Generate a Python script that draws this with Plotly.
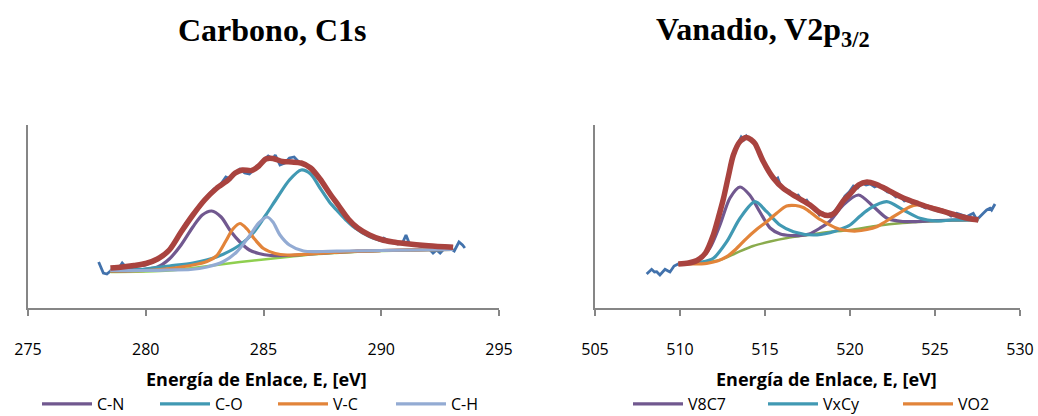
import plotly.graph_objects as go

# ---------------- Carbono, C1s ----------------
c_exp_E = [278.0, 278.1, 278.2, 278.35, 278.5, 278.65, 278.8, 279.0, 279.15, 279.3, 279.5, 279.7,
           280.0, 280.3, 280.5, 280.7, 280.9, 281.1, 281.3, 281.5, 281.7, 281.9, 282.1, 282.3,
           282.5, 282.7, 282.9, 283.1, 283.3, 283.4, 283.6, 283.8, 284.0, 284.2, 284.4, 284.6,
           284.8, 285.0, 285.2, 285.4, 285.5, 285.7, 285.9, 286.1, 286.3, 286.5, 286.7, 286.9,
           287.1, 287.3, 287.5, 287.7, 287.9, 288.1, 288.3, 288.5, 288.7, 288.9, 289.1, 289.3,
           289.5, 289.7, 289.9, 290.1, 290.3, 290.5, 290.7, 290.9, 291.05, 291.2, 291.4, 291.6,
           291.8, 292.0, 292.2, 292.35, 292.5, 292.7, 292.9, 293.1, 293.3, 293.45, 293.55]
c_exp_I = [46, 40, 35, 34, 37, 41, 38, 45, 41, 39.5, 41, 42,
           43, 46, 50, 52, 56, 62, 69, 76, 85, 90, 96, 101,
           109, 114, 119, 121, 127, 131, 129, 135, 139, 135, 134, 139,
           143, 148, 152, 149, 153, 143, 145, 150, 151, 146, 144, 142,
           136, 131, 125, 118, 112, 106, 96, 92, 87, 80, 78, 75,
           73, 71, 68, 70, 67, 66, 64, 65, 73, 64, 63, 62,
           61, 60, 55, 58, 55, 60, 60, 57, 66, 63, 60]

c_fit_E = [278.5, 279.0, 279.5, 280.0, 280.5, 281.0, 281.5, 282.0, 282.5, 283.0, 283.5, 283.8,
           284.1, 284.5, 284.8, 285.1, 285.4, 285.8, 286.2, 286.6, 287.0, 287.4, 287.8, 288.2,
           288.6, 289.0, 289.5, 290.0, 290.5, 291.0, 292.0, 293.05]
c_fit_I = [40, 41, 42.5, 44.5, 49, 58, 76, 93, 108, 119.5, 128, 135,
           138, 137.5, 142, 149, 149.5, 146.5, 146, 145, 140, 129, 115, 102,
           89, 80, 73, 68.5, 66, 64.5, 62.3, 60.7]

c_bg_E = [278.5, 280.0, 281.0, 282.0, 283.0, 284.0, 285.0, 286.0, 287.0, 288.0, 289.0, 290.0,
          291.0, 292.0, 293.05]
c_bg_I = [36, 36.5, 37.5, 40, 43, 46, 48.5, 51, 53.5, 55, 56.3, 57, 57.5, 58, 58.3]

c_cn_E = [278.5, 279.5, 280.5, 281.0, 281.5, 282.0, 282.4, 282.8, 283.2, 283.6, 284.0, 284.4,
          284.8, 285.3, 286.0, 287.0, 288.0, 289.0, 290.0, 291.0, 292.0, 293.05]
c_cn_I = [37, 37.5, 41, 49, 63, 81, 93, 97, 91, 77, 66, 58,
          54.5, 52.5, 52.5, 54, 55.5, 56.8, 57.5, 58, 58.4, 58.7]

c_co_E = [278.5, 280.0, 281.0, 282.0, 283.0, 284.0, 284.6, 285.1, 285.6, 286.1, 286.6, 287.0,
          287.4, 287.8, 288.1, 288.5, 288.8, 289.5, 290.2, 291.0, 291.7, 293.05]
c_co_I = [37.5, 39, 42, 45, 51, 63, 76, 93, 111, 128, 138, 134,
          120, 106, 98, 88, 81.5, 71.5, 66.5, 64, 63, 61.3]

c_vc_E = [278.5, 280.0, 281.0, 282.0, 282.6, 283.0, 283.4, 283.7, 284.0, 284.3, 284.6, 285.0,
          285.5, 286.0, 287.0, 288.0, 289.0, 290.0, 291.0, 292.0, 293.05]
c_vc_I = [37, 37.5, 39.5, 43, 46.5, 52, 67, 79, 84.5, 79, 69.5, 59.5,
          54.5, 53, 54, 55.5, 56.8, 57.5, 58, 58.4, 58.7]

c_ch_E = [278.5, 280.0, 281.0, 281.9, 282.6, 283.3, 283.86, 284.4, 284.8, 285.15, 285.4, 285.7,
          286.1, 286.7, 287.5, 288.5, 290.0, 291.5, 293.05]
c_ch_I = [37.5, 37.5, 38, 38.5, 41, 46.5, 56, 72, 85, 91, 86, 73,
          63, 57, 56.5, 57, 57.5, 58, 58.7]

# ---------------- Vanadio, V2p3/2 ----------------
v_exp_E = [508.04, 508.2, 508.33, 508.5, 508.63, 508.82, 509.0, 509.12, 509.3, 509.41, 509.65, 509.9,
           510.2, 510.5, 510.8, 511.1, 511.4, 511.7, 512.0, 512.3, 512.6, 512.9, 513.2, 513.45,
           513.6, 513.75, 513.9, 514.05, 514.25, 514.45, 514.7, 514.95, 515.2, 515.4, 515.6, 515.75,
           515.95, 516.2, 516.45, 516.7, 516.95, 517.2, 517.45, 517.7, 517.95, 518.2, 518.4, 518.6,
           518.8, 519.0, 519.2, 519.45, 519.7, 519.95, 520.2, 520.45, 520.7, 520.95, 521.2, 521.45,
           521.7, 521.95, 522.2, 522.45, 522.7, 522.95, 523.2, 523.45, 523.7, 523.95, 524.2, 524.45,
           524.7, 524.95, 525.2, 525.45, 525.7, 525.95, 526.27, 526.55, 526.86, 527.05, 527.25, 527.4,
           527.55, 527.84, 528.04, 528.24, 528.33, 528.53]
v_exp_I = [34, 37, 38.7, 36, 36.3, 33, 36, 38.7, 37, 36, 42, 44,
           44, 45.5, 46, 49, 53, 62, 75, 93, 113, 136, 155, 166,
           171, 168, 172, 169, 167, 163, 153, 144, 136, 133, 128, 130,
           121, 118, 117, 112, 113, 107, 108, 101, 100, 93, 95, 92,
           94, 95, 99, 104, 112, 116, 122, 120, 125, 123, 124, 121,
           123, 119, 116, 115, 111, 112, 107, 108, 104, 105, 102, 100,
           101, 98, 97, 98, 95, 92, 94.7, 93, 91.3, 93, 94.7, 90,
           89.7, 94.7, 98, 99.7, 98, 104]

v_fit_E = [509.9, 510.5, 511.0, 511.5, 511.96, 512.25, 512.55, 512.85, 513.14, 513.53, 513.92, 514.2,
           514.41, 514.9, 515.49, 516.08, 516.86, 517.65, 518.24, 518.7, 519.1, 519.6, 520.0, 520.5,
           521.0, 521.5, 522.0, 522.6, 523.14, 524.0, 524.5, 525.1, 526.0, 526.5, 527.0, 527.55]
v_fit_I = [44, 45, 47.5, 55, 73, 90, 109, 132, 153, 166.5, 170.5, 168,
           164.5, 146.5, 130, 119.5, 111, 103, 95, 92.5, 95, 107, 114, 123,
           126, 124, 120, 114.5, 110, 104.5, 101.5, 98.5, 94, 91.5, 89.5, 88]

v_bg_E = [509.9, 511.0, 512.35, 513.3, 514.3, 515.3, 516.3, 517.5, 518.5, 520.0, 521.5, 523.1,
          524.5, 526.0, 527.55]
v_bg_I = [44, 45, 48, 55, 62, 66.5, 70, 73, 75.5, 78, 82, 85, 86.5, 87.5, 88]

v_v8c7_E = [509.9, 510.6, 511.2, 511.76, 512.35, 512.94, 513.53, 514.1, 514.7, 515.3, 515.9, 516.5,
            517.1, 517.6, 518.2, 518.8, 519.6, 520.5, 521.4, 522.2, 523.1, 524.0, 525.0, 526.0,
            527.55]
v_v8c7_I = [44, 45, 49.5, 60, 83, 110, 121, 113, 96, 80, 74, 72.5,
            72.5, 74, 79.5, 86.5, 103, 113, 101, 89.5, 86.5, 86.5, 87.3, 88, 88.3]

v_vxcy_E = [509.9, 510.6, 511.2, 511.96, 512.75, 513.53, 514.41, 515.1, 515.88, 516.67, 517.84, 518.82,
            519.4, 520.0, 520.6, 521.18, 522.16, 523.14, 524.12, 525.1, 526.0, 527.55]
v_vxcy_I = [44, 44.5, 45.7, 49.7, 66.3, 89.7, 106.3, 96.3, 83, 76.3, 73, 75.3,
            78.5, 83, 92, 99.7, 106.3, 98, 89.7, 87, 88, 88.3]

v_vo2_E = [509.9, 510.7, 511.57, 512.2, 512.75, 513.3, 513.92, 514.5, 515.1, 515.7, 516.27, 516.8,
           517.25, 517.65, 518.1, 518.63, 519.1, 519.6, 520.39, 521.0, 521.57, 522.05, 522.55, 523.05,
           523.53, 523.95, 524.4, 525.0, 525.6, 526.1, 526.8, 527.55]
v_vo2_I = [44, 44, 44.7, 47, 51.3, 59, 69.7, 78.5, 86.3, 95, 102, 102.5,
           100.5, 96, 90, 84.7, 80.5, 78, 77, 78.5, 81.3, 86, 91.3, 96.5,
           101.3, 103, 102.5, 100, 97, 93.5, 90.5, 88.5]

c_ticks = [275, 280, 285, 290, 295]
v_ticks = [505, 510, 515, 520, 525, 530]

# ---------------- styling ----------------
W, H = 1038, 416
BLUE = "#4272ac"
RED = "#a9433f"
PURPLE = "#71588f"
TEAL = "#4199b3"
ORANGE = "#e2843a"
LIGHTBLUE = "#93abd3"
AXIS = "#868686"
FONT = "Open Sans"


def px_x(p):
    return p / W


def px_y(p):
    return 1 - p / H


fig = go.Figure()


def add(x, y, color, width, name=None, xa="x", ya="y", legend="legend", smooth=True):
    fig.add_trace(go.Scatter(
        x=x, y=y, mode="lines", name=name or "",
        line=dict(color=color, width=width, shape="spline" if smooth else "linear", smoothing=0.8),
        showlegend=name is not None, legend=legend, xaxis=xa, yaxis=ya, hoverinfo="skip"))


# Carbono panel
add(c_exp_E, c_exp_I, BLUE, 2.8, smooth=False)
add(c_bg_E, c_bg_I, "#8fcf4f", 2.5)
add(c_cn_E, c_cn_I, PURPLE, 3.2, "C-N")
add(c_co_E, c_co_I, TEAL, 3.2, "C-O")
add(c_vc_E, c_vc_I, ORANGE, 3.2, "V-C")
add(c_ch_E, c_ch_I, LIGHTBLUE, 3.2, "C-H")
add(c_fit_E, c_fit_I, RED, 5.5)

# Vanadio panel
add(v_exp_E, v_exp_I, BLUE, 2.8, xa="x2", ya="y2", smooth=False)
add(v_bg_E, v_bg_I, "#8aab4d", 2.5, xa="x2", ya="y2")
add(v_v8c7_E, v_v8c7_I, PURPLE, 3.2, "V8C7", "x2", "y2", "legend2")
add(v_vxcy_E, v_vxcy_I, TEAL, 3.2, "VxCy", "x2", "y2", "legend2")
add(v_vo2_E, v_vo2_I, ORANGE, 3.2, "VO2", "x2", "y2", "legend2")
add(v_fit_E, v_fit_I, RED, 5.5, xa="x2", ya="y2")

xcommon = dict(showline=True, linecolor=AXIS, linewidth=1.5, ticks="outside", ticklen=6,
               tickcolor=AXIS, tickwidth=1.5, showgrid=False, zeroline=False, automargin=False,
               tickfont=dict(family=FONT, size=16, color="#000000"), ticklabelstandoff=20)
ycommon = dict(showline=True, linecolor=AXIS, linewidth=1.5, ticks="", showticklabels=False,
               showgrid=False, zeroline=False, automargin=False, range=[0, 183])
ydom = [px_y(308), px_y(125)]

legend_common = dict(orientation="h", yanchor="middle", xanchor="left", itemwidth=50,
                     entrywidthmode="pixels", font=dict(family=FONT, size=16, color="#000000"),
                     bgcolor="rgba(0,0,0,0)", borderwidth=0, tracegroupgap=0)

fig.update_layout(
    width=W, height=H, margin=dict(l=0, r=0, t=0, b=0, autoexpand=False),
    paper_bgcolor="white", plot_bgcolor="white",
    xaxis=dict(domain=[px_x(28), px_x(499)], range=[275, 295], tickvals=c_ticks, anchor="y", **xcommon),
    yaxis=dict(domain=ydom, anchor="x", **ycommon),
    xaxis2=dict(domain=[px_x(595), px_x(1020)], range=[505, 530], tickvals=v_ticks, anchor="y2", **xcommon),
    yaxis2=dict(domain=ydom, anchor="x2", **ycommon),
    legend=dict(x=px_x(37), y=px_y(404), entrywidth=53, **legend_common),
    legend2=dict(x=px_x(628), y=px_y(404), entrywidth=70, **legend_common),
)

annots = [
    dict(text="<b>Carbono, C1s</b>", x=px_x(272), y=px_y(30), size=32, family="Liberation Serif"),
    dict(text="<b>Vanadio, V2p<sub>3/2</sub></b>", x=px_x(763), y=px_y(32), size=32, family="Liberation Serif"),
    dict(text="<b>Energía de Enlace, E, [eV]</b>", x=px_x(256), y=px_y(379), size=18, family=FONT),
    dict(text="<b>Energía de Enlace, E, [eV]</b>", x=px_x(826), y=px_y(379), size=18, family=FONT),
]
for a in annots:
    fig.add_annotation(text=a["text"], x=a["x"], y=a["y"], xref="paper", yref="paper",
                       xanchor="center", yanchor="middle", showarrow=False,
                       font=dict(family=a["family"], size=a["size"], color="#000000"))

fig.write_html("out.html")
